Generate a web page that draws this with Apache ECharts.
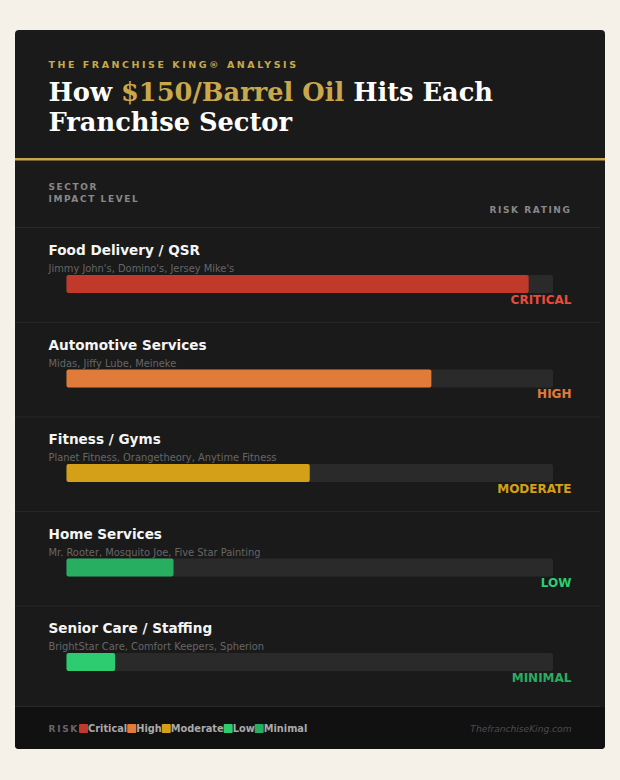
<!DOCTYPE html>
<html>
<head>
<meta charset="utf-8">
<style>
  html, body { margin: 0; padding: 0; background: #f5f0e8; }
  #chart { width: 620px; height: 780px; }
</style>
<script src="https://cdn.jsdelivr.net/npm/echarts@6/dist/echarts.min.js"></script>
</head>
<body>
<div id="chart"></div>
<script>
var sectors = ['Food Delivery / QSR', 'Automotive Services', 'Fitness / Gyms', 'Home Services', 'Senior Care / Staffing'];
var brands = ["Jimmy John's, Domino's, Jersey Mike's", 'Midas, Jiffy Lube, Meineke', 'Planet Fitness, Orangetheory, Anytime Fitness', 'Mr. Rooter, Mosquito Joe, Five Star Painting', 'BrightStar Care, Comfort Keepers, Spherion'];
var impact = [95, 75, 50, 22, 10];
var ratings = ['CRITICAL', 'HIGH', 'MODERATE', 'LOW', 'MINIMAL'];
var barColors = ['#c0392b', '#e07b39', '#d4a017', '#27ae60', '#2ecc71'];
var ratingColors = ['#e74c3c', '#e07b39', '#d4a017', '#2ecc71', '#27ae60'];
var legendNames = ['Critical', 'High', 'Moderate', 'Low', 'Minimal'];
var legendColors = ['#c0392b', '#e07b39', '#d4a017', '#2ecc71', '#27ae60'];

var SANS = '"DejaVu Sans", sans-serif';
var SERIF = '"DejaVu Serif", serif';
var GOLD = '#c9a84c';

var chartDom = document.getElementById('chart');
var chart = echarts.init(chartDom, null, {renderer: 'svg'});

var option = {
    animation: false,
    backgroundColor: '#f5f0e8',
    grid: {left: 66.5, right: 67, top: 236.75, height: 472.5},
    xAxis: {type: 'value', min: 0, max: 100, show: false},
    yAxis: {type: 'category', data: sectors, inverse: true, show: false},
    series: [{
        type: 'bar',
        barWidth: 18,
        showBackground: true,
        backgroundStyle: {color: '#2a2a2a', borderRadius: 2},
        itemStyle: {borderRadius: 2},
        data: impact.map(function (v, i) {
            return {value: v, itemStyle: {color: barColors[i]}};
        })
    }]
};
chart.setOption(option);

function label(x, y, text, font, color, align) {
    return {
        type: 'text', x: x, y: y, z: 1,
        style: {text: text, font: font, fill: color, align: align || 'left', verticalAlign: 'middle'}
    };
}
function box(x, y, w, h, color, r) {
    return {type: 'rect', z: 0, shape: {x: x, y: y, width: w, height: h, r: r || 0}, style: {fill: color}};
}

// letter spacing is applied on the svg afterwards, so it has to count here too
var measure = document.createElement('canvas').getContext('2d');
function textWidth(text, font, spacing) {
    measure.font = font;
    return measure.measureText(text).width + spacing * text.length;
}

var titleFont = 'bold 25.7px ' + SERIF;
var items = [
    box(15, 30, 590, 719, '#1a1a1a', 4),
    box(15, 707, 590, 42, '#111111', [0, 0, 4, 4]),
    box(15, 158, 590, 2.5, GOLD),
    label(48.5, 64, 'THE FRANCHISE KING® ANALYSIS', 'bold 9.5px ' + SANS, GOLD),
    {
        type: 'text', x: 48.5, y: 92, z: 1,
        style: {
            text: 'How {gold|$150/Barrel Oil} Hits Each',
            font: titleFont, fill: '#ffffff', verticalAlign: 'middle',
            rich: {gold: {font: titleFont, fill: GOLD}}
        }
    },
    label(48.5, 122, 'Franchise Sector', titleFont, '#ffffff'),
    label(48.5, 187, 'SECTOR', 'bold 9px ' + SANS, '#888888'),
    label(48.5, 198.5, 'IMPACT LEVEL', 'bold 9px ' + SANS, '#888888'),
    label(571.5, 210, 'RISK RATING', 'bold 9px ' + SANS, '#888888', 'right'),
    box(15, 227, 585, 1, '#2a2a2a'),
    box(15, 706, 585, 1, '#2a2a2a')
];

sectors.forEach(function (name, i) {
    var y = chart.convertToPixel({yAxisIndex: 0}, i);
    items.push(label(48.5, y - 34, name, 'bold 13.6px ' + SANS, '#f5f5f5'));
    items.push(label(48.5, y - 15.5, brands[i], '9.9px ' + SANS, '#666666'));
    items.push(label(571.5, y + 15.5, ratings[i], 'bold 12px ' + SANS, ratingColors[i], 'right'));
    if (i > 0) {
        items.push(box(15, y - 56.5, 585, 1, '#262626'));
    }
});

// footer legend, laid out left to right from the measured labels
var legendFont = 'bold 9.8px ' + SANS;
var legendX = 48.5;
items.push(label(legendX, 728.5, 'RISK', 'bold 9px ' + SANS, '#666666'));
legendX += textWidth('RISK', 'bold 9px ' + SANS, 1.7);
legendNames.forEach(function (name, i) {
    items.push(box(legendX, 724, 9, 9, legendColors[i], 1));
    legendX += 9;
    items.push(label(legendX, 728.5, name, legendFont, '#aaaaaa'));
    legendX += textWidth(name, legendFont, 0);
});
items.push(label(571.5, 728.5, 'ThefranchiseKing.com', 'italic 9.1px ' + SANS, '#4d4d4d', 'right'));

chart.setOption({graphic: {elements: items}});

// echarts has no letter spacing option, set it on the svg text
var spacing = {
    'THE FRANCHISE KING® ANALYSIS': 2.53,
    'SECTOR': 1.6,
    'IMPACT LEVEL': 1.6,
    'RISK RATING': 1.6,
    'RISK': 1.7
};
function applySpacing() {
    chartDom.querySelectorAll('svg text').forEach(function (el) {
        var s = spacing[el.textContent];
        if (s) {
            el.style.letterSpacing = s + 'px';
        }
    });
}
chart.on('finished', applySpacing);
applySpacing();
</script>
</body>
</html>
